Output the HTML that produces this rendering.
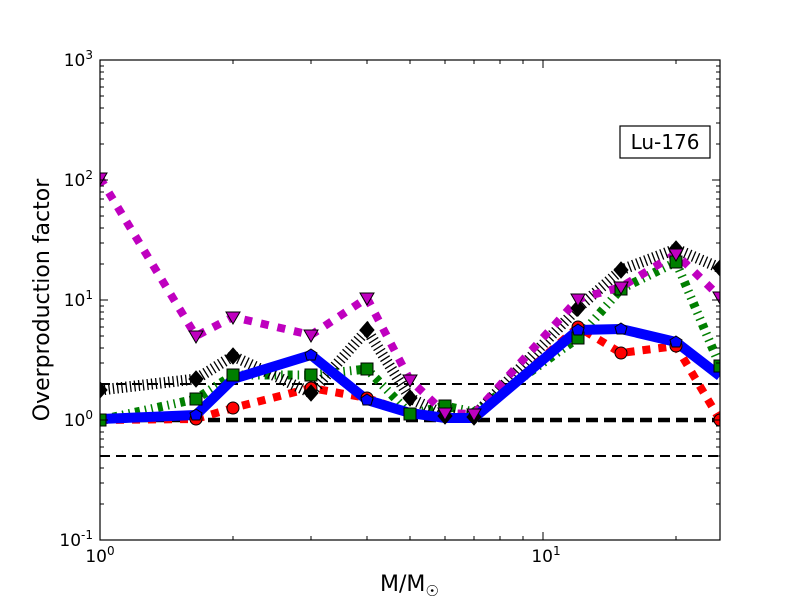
<!DOCTYPE html>
<html><head><meta charset="utf-8"><style>body{margin:0;background:#fff}svg{display:block}</style></head><body>
<svg width="800" height="600" xmlns="http://www.w3.org/2000/svg" font-family="DejaVu Sans, Liberation Sans, sans-serif">
<defs><clipPath id="c"><rect x="100" y="60" width="620" height="480"/></clipPath></defs>
<rect width="800" height="600" fill="#fff"/>
<g clip-path="url(#c)">
<g fill="none" stroke="#000" stroke-dasharray="10 6">
<line x1="100" y1="384" x2="720" y2="384" stroke-width="2"/>
<line x1="100" y1="456" x2="720" y2="456" stroke-width="2"/>
<line x1="100" y1="420" x2="720" y2="420" stroke-width="4.5" stroke-dasharray="12 6"/>
</g>
<g fill="none" stroke-linejoin="miter">
<polyline stroke="#f00" stroke-width="8" stroke-dasharray="8 8" points="100,420 196,419 233,408 311,388 367,398 410,413 445,418 474,418 578,327 621,353 676,346 720,420"/>
<polyline stroke="#007f00" stroke-width="9" stroke-dasharray="1.5 5 1.5 5 5 5" points="100,420 196,399 233,375 311,375 367,369 410,414 445,406 474,412 578,338 621,289 676,262 720,366"/>
<polyline stroke="#000" stroke-width="11" stroke-dasharray="1.3 3" points="100,390 196,379 233,356 311,393 367,330 410,398 445,415 474,416 578,308 621,270 676,249 720,268"/>
<polyline stroke="#bf00bf" stroke-width="8" stroke-dasharray="8 9" points="100,178 196,336 233,317 311,335 367,298 410,380 445,413 474,414 578,299 621,287 676,254 720,297"/>
<polyline stroke="#00f" stroke-width="10" points="100,419 196,415 233,379 311,355 367,400 410,413 445,418 474,418 578,330 621,329 676,342 720,376"/>
</g>
<g stroke="#000" stroke-width="1">
<g fill="#f00"><circle cx="196" cy="419" r="6"/><circle cx="233" cy="408" r="6"/><circle cx="311" cy="388" r="6"/><circle cx="367" cy="398" r="6"/><circle cx="578" cy="327" r="6"/><circle cx="621" cy="353" r="6"/><circle cx="676" cy="346" r="6"/><circle cx="720" cy="420" r="6"/></g>
<g fill="#007f00"><rect x="94" y="414" width="12" height="12"/><rect x="190" y="393" width="12" height="12"/><rect x="227" y="369" width="12" height="12"/><rect x="305" y="369" width="12" height="12"/><rect x="361" y="363" width="12" height="12"/><rect x="404" y="408" width="12" height="12"/><rect x="439" y="400" width="12" height="12"/><rect x="572" y="332" width="12" height="12"/><rect x="615" y="283" width="12" height="12"/><rect x="670" y="256" width="12" height="12"/><rect x="714" y="360" width="12" height="12"/></g>
<g fill="#000"><path d="M100 382l7 8-7 8-7-8z"/><path d="M196 371l7 8-7 8-7-8z"/><path d="M233 348l7 8-7 8-7-8z"/><path d="M311 385l7 8-7 8-7-8z"/><path d="M367 322l7 8-7 8-7-8z"/><path d="M410 390l7 8-7 8-7-8z"/><path d="M445 408l7 8-7 8-7-8z"/><path d="M474 409l7 8-7 8-7-8z"/><path d="M578 300l7 8-7 8-7-8z"/><path d="M621 262l7 8-7 8-7-8z"/><path d="M676 241l7 8-7 8-7-8z"/><path d="M720 260l7 8-7 8-7-8z"/></g>
<g fill="#bf00bf"><path d="M93 173h14l-7 12z"/><path d="M189 331h14l-7 12z"/><path d="M226 312h14l-7 12z"/><path d="M304 330h14l-7 12z"/><path d="M360 293h14l-7 12z"/><path d="M403 375h14l-7 12z"/><path d="M438 408h14l-7 12z"/><path d="M467 409h14l-7 12z"/><path d="M571 294h14l-7 12z"/><path d="M614 282h14l-7 12z"/><path d="M669 249h14l-7 12z"/><path d="M713 292h14l-7 12z"/></g>
<g fill="#00f"><path d="M196 409l6 4-2 7h-8l-2-7z"/><path d="M311 349l6 4-2 7h-8l-2-7z"/><path d="M367 394l6 4-2 7h-8l-2-7z"/><path d="M578 324l6 4-2 7h-8l-2-7z"/><path d="M621 323l6 4-2 7h-8l-2-7z"/><path d="M676 336l6 4-2 7h-8l-2-7z"/></g>
</g>
</g>
<rect x="100" y="60" width="620" height="480" fill="none" stroke="#000" stroke-width="1.2"/>
<g stroke="#000" stroke-width="1">
<path d="M100 540h8M100 420h8M100 300h8M100 180h8M712 540h8M712 420h8M712 300h8M712 180h8"/>
<path d="M100 504h4M100 483h4M100 468h4M100 456h4M100 447h4M100 439h4M100 432h4M100 426h4M100 384h4M100 363h4M100 348h4M100 336h4M100 327h4M100 319h4M100 312h4M100 306h4M100 264h4M100 243h4M100 228h4M100 216h4M100 207h4M100 199h4M100 192h4M100 186h4M100 144h4M100 123h4M100 108h4M100 96h4M100 87h4M100 79h4M100 72h4M100 66h4"/>
<path d="M716 504h4M716 483h4M716 468h4M716 456h4M716 447h4M716 439h4M716 432h4M716 426h4M716 384h4M716 363h4M716 348h4M716 336h4M716 327h4M716 319h4M716 312h4M716 306h4M716 264h4M716 243h4M716 228h4M716 216h4M716 207h4M716 199h4M716 192h4M716 186h4M716 144h4M716 123h4M716 108h4M716 96h4M716 87h4M716 79h4M716 72h4M716 66h4"/>
<path d="M543 540v-8M543 60v8"/>
<path d="M233 540v-4M311 540v-4M367 540v-4M410 540v-4M445 540v-4M474 540v-4M500 540v-4M523 540v-4M676 540v-4M233 60v4M311 60v4M367 60v4M410 60v4M445 60v4M474 60v4M500 60v4M523 60v4M676 60v4"/>
</g>
<g font-size="17" fill="#000">
<text x="93" y="66" text-anchor="end">10<tspan font-size="12" dy="-7">3</tspan></text>
<text x="93" y="186" text-anchor="end">10<tspan font-size="12" dy="-7">2</tspan></text>
<text x="93" y="306" text-anchor="end">10<tspan font-size="12" dy="-7">1</tspan></text>
<text x="93" y="426" text-anchor="end">10<tspan font-size="12" dy="-7">0</tspan></text>
<text x="93" y="546" text-anchor="end">10<tspan font-size="12" dy="-7">-1</tspan></text>
<text x="100" y="562" text-anchor="middle">10<tspan font-size="12" dy="-7">0</tspan></text>
<text x="546" y="562" text-anchor="middle">10<tspan font-size="12" dy="-7">1</tspan></text>
</g>
<text x="380" y="591" font-size="22">M/M<tspan font-size="15" dy="5">☉</tspan></text>
<text transform="translate(49 300) rotate(-90)" font-size="22" text-anchor="middle">Overproduction factor</text>
<rect x="620" y="126" width="90" height="32" fill="#fff" stroke="#000" stroke-width="1.2"/>
<text x="665" y="149" font-size="20" text-anchor="middle">Lu-176</text>
</svg>
</body></html>
